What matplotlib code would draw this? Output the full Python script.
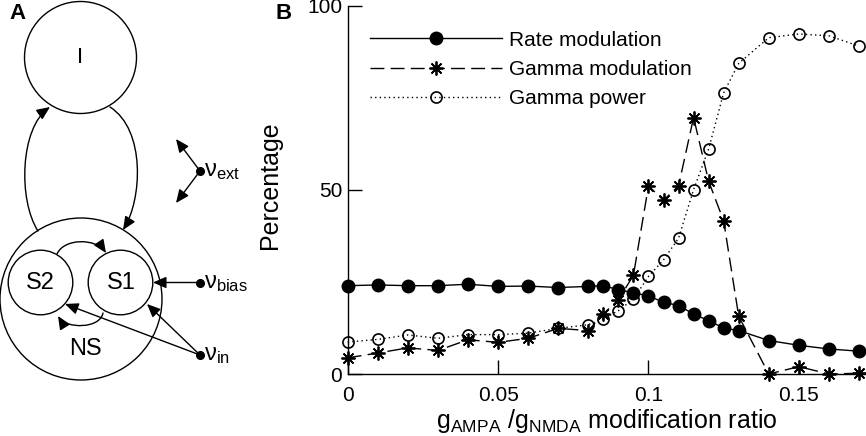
import matplotlib
matplotlib.use('Agg')
import matplotlib.pyplot as plt
from matplotlib.patches import Circle, FancyArrowPatch, ArrowStyle
from matplotlib.path import Path

plt.rcParams['font.family'] = ['Liberation Sans', 'DejaVu Sans']
plt.rcParams['mathtext.fontset'] = 'custom'
plt.rcParams['mathtext.rm'] = 'Liberation Sans'
plt.rcParams['mathtext.it'] = 'Liberation Sans:italic'
plt.rcParams['mathtext.bf'] = 'Liberation Sans:bold'

# ---------------- data (panel B) ----------------
ratio = [0, 0.01, 0.02, 0.03, 0.04, 0.05, 0.06, 0.07, 0.08, 0.085, 0.09, 0.095,
         0.1, 0.105, 0.11, 0.115, 0.12, 0.125, 0.13, 0.14, 0.15, 0.16, 0.17]
rate_modulation = [24.0, 24.2, 24.0, 24.0, 24.4, 23.8, 23.9, 23.5, 23.8, 24.0, 22.9, 22.1,
                   21.2, 19.5, 18.6, 16.3, 14.5, 12.5, 11.8, 9.1, 7.8, 6.8, 6.2]
gamma_modulation = [4.4, 5.7, 7.1, 6.4, 9.3, 8.6, 9.7, 12.4, 11.8, 16.3, 20.2, 26.8,
                    51.1, 47.2, 51.1, 69.7, 52.4, 41.6, 15.7, 0.0, 2.0, 0.0, 0.2]
gamma_power = [8.7, 9.4, 10.6, 9.7, 10.7, 10.7, 11.1, 12.4, 13.4, 15.0, 17.2, 20.4,
               26.5, 31.0, 36.9, 50.1, 61.1, 76.4, 84.4, 91.4, 92.4, 91.9, 89.1]
series_labels = ['Rate modulation', 'Gamma modulation', 'Gamma power']
x_ticks = [0, 0.05, 0.1, 0.15]
x_tick_labels = ['0', '0.05', '0.1', '0.15']
y_ticks = [0, 50, 100]
y_tick_labels = ['0', '50', '100']

W, H = 866, 436
fig = plt.figure(figsize=(W / 100, H / 100), dpi=100)

# ---------------- panel A: schematic (pixel coordinates) ----------------
axA = fig.add_axes([0, 0, 1, 1])
axA.set_xlim(0, W)
axA.set_ylim(H, 0)
axA.axis('off')
axA.patch.set_alpha(0)

lw = 1.0
for (cx, cy, r) in [(80.5, 57.5, 56), (81, 299, 81), (40.5, 282.5, 32.3), (120.5, 282.5, 32.3)]:
    axA.add_patch(Circle((cx, cy), r, fill=False, ec='black', lw=lw))

axA.text(80.5, 57.5, 'I', fontsize=16, ha='center', va='center')
axA.text(40.5, 282.5, 'S2', fontsize=17, ha='center', va='center')
axA.text(121.5, 282.5, 'S1', fontsize=17, ha='center', va='center')
axA.text(85, 349, 'NS', fontsize=17, ha='center', va='center')

astyle = ArrowStyle('-|>', head_length=8, head_width=3.5)

def curve(pts):
    p = Path(pts, [Path.MOVETO, Path.CURVE4, Path.CURVE4, Path.CURVE4])
    axA.add_patch(FancyArrowPatch(path=p, arrowstyle=astyle, mutation_scale=1,
                                  color='black', lw=lw, shrinkA=0, shrinkB=0))

def straight(a, b):
    axA.add_patch(FancyArrowPatch(a, b, arrowstyle=astyle, mutation_scale=1,
                                  color='black', lw=lw, shrinkA=0, shrinkB=0))

# NS -> I (left), I -> NS (right)
curve([(38, 231), (18, 200), (20, 128), (50, 107)])
curve([(110, 107), (146, 130), (142, 200), (123, 230)])
# S2 -> S1 (top), S1 -> S2 (bottom)
curve([(57, 254), (64, 238), (96, 238), (106, 253)])
curve([(103, 313), (100, 329), (66, 329), (58, 316)])

# external inputs
dots = [(200, 171), (200, 282.5), (200, 355)]
for d in dots:
    axA.plot(*d, 'o', color='black', ms=5.5)
straight((200, 171), (176, 139))
straight((200, 171), (176, 203))
straight((200, 282.5), (153, 282.5))
straight((200, 355), (147, 304))
straight((200, 355), (65, 304))

axA.text(204, 171, r'$\mathrm{\nu}_{\mathrm{ext}}$', fontsize=17, ha='left', va='center')
axA.text(204, 282.5, r'$\mathrm{\nu}_{\mathrm{bias}}$', fontsize=17, ha='left', va='center')
axA.text(204, 355, r'$\mathrm{\nu}_{\mathrm{in}}$', fontsize=17, ha='left', va='center')

axA.text(17.5, 13.5, 'A', fontsize=16, fontweight='bold', ha='center', va='center')
axA.text(284, 13.5, 'B', fontsize=16, fontweight='bold', ha='center', va='center')

# ---------------- panel B ----------------
px0, px1, py0, py1 = 347.7, 865.0, 374.0, 6.0
axB = fig.add_axes([px0 / W, 1 - py0 / H, (px1 - px0) / W, (py0 - py1) / H])
axB.patch.set_alpha(0)

h1, = axB.plot(ratio, rate_modulation, '-', color='black', lw=1.0, marker='o',
               ms=9, mfc='black', mec='black', clip_on=False, zorder=3)
h2, = axB.plot(ratio, gamma_modulation, color='black', lw=1.0, ls=(0, (10, 4.5)),
               marker=(8, 2, 0), ms=10, mew=1.3, clip_on=False, zorder=4)
h3, = axB.plot(ratio, gamma_power, color='black', lw=1.0, ls=(0, (1, 2.3)),
               marker='o', ms=8, mfc='none', mec='black', mew=1.2, clip_on=False, zorder=5)

axB.set_xlim(0, 0.17 * (px1 - px0) / (859.0 - px0))
axB.set_ylim(0, 100)
axB.set_xticks(x_ticks)
axB.set_xticklabels(x_tick_labels)
axB.set_yticks(y_ticks)
axB.set_yticklabels(y_tick_labels)
for s in ['top', 'right']:
    axB.spines[s].set_visible(False)
for s in ['left', 'bottom']:
    axB.spines[s].set_linewidth(1.0)
axB.tick_params(direction='in', length=10, width=1.0, labelsize=15)
axB.tick_params(axis='x', pad=8.5)
axB.tick_params(axis='y', pad=4)

axB.set_ylabel('Percentage', fontsize=18)
axB.yaxis.set_label_coords((282 - px0) / (px1 - px0), (py0 - 185) / (py0 - py1))
axB.set_xlabel(r'$\mathrm{g_{AMPA}}$ /$\mathrm{g_{NMDA}}$ modification ratio', fontsize=18, labelpad=1.5)

axB.legend([h1, h2, h3], series_labels, loc='upper left',
           bbox_to_anchor=(370 / W, 1 - 30.5 / H), bbox_transform=fig.transFigure,
           frameon=False, handlelength=6.34, handletextpad=0.34, labelspacing=0.5,
           borderpad=0, borderaxespad=0, fontsize=15, numpoints=1)

fig.savefig('out.png', dpi=100)
